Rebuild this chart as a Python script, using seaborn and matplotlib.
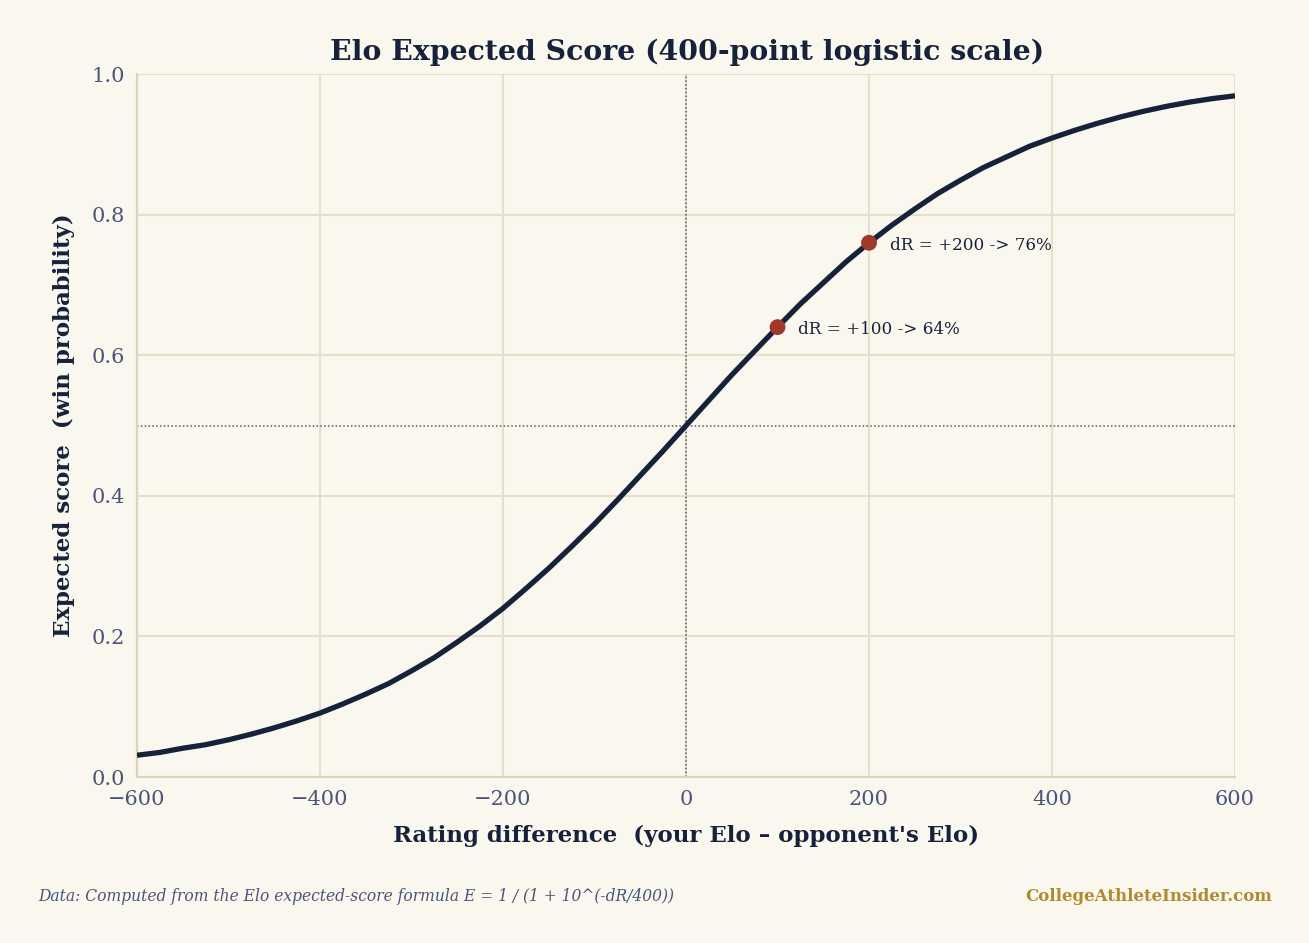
import matplotlib
matplotlib.use("Agg")
import matplotlib.pyplot as plt
import seaborn as sns
import pandas as pd

# Values (rating difference -> expected score)
rating_diff = [-600, -575, -550, -525, -500, -475, -450, -425, -400, -375, -350, -325,
               -300, -275, -250, -225, -200, -175, -150, -125, -100, -75, -50, -25,
               0, 25, 50, 75, 100, 125, 150, 175, 200, 225, 250, 275, 300, 325, 350,
               375, 400, 425, 450, 475, 500, 525, 550, 575, 600]
expected_score = [0.031, 0.035, 0.041, 0.046, 0.053, 0.061, 0.070, 0.080, 0.091, 0.104,
                  0.118, 0.133, 0.151, 0.170, 0.192, 0.215, 0.240, 0.268, 0.297, 0.328,
                  0.360, 0.394, 0.429, 0.464, 0.500, 0.536, 0.572, 0.606, 0.640, 0.673,
                  0.703, 0.733, 0.760, 0.785, 0.808, 0.830, 0.849, 0.867, 0.882, 0.897,
                  0.909, 0.920, 0.930, 0.939, 0.947, 0.954, 0.960, 0.965, 0.969]

marker_x = [100, 200]
marker_y = [0.64, 0.76]
marker_labels = ["dR = +100 -> 64%", "dR = +200 -> 76%"]

x_ticks = [-600, -400, -200, 0, 200, 400, 600]
y_ticks = [0.0, 0.2, 0.4, 0.6, 0.8, 1.0]

BG = "#FAF7EF"
NAVY = "#16213A"
RED = "#A0392B"
GRID = "#E6E0C8"
SPINE = "#DDD3B8"
TICKC = "#4B5479"
GOLD = "#B08A2E"

sns.set_theme(style="whitegrid")
plt.rcParams["font.family"] = ["DejaVu Serif"]

fig = plt.figure(figsize=(13.09, 9.43), dpi=100, facecolor=BG)
ax = fig.add_axes([0.1047, 0.176, 0.8388, 0.7455])
ax.set_facecolor(BG)

df = pd.DataFrame({"dR": rating_diff, "E": expected_score})
ax.axvline(0, color="#555a66", lw=1.1, ls=(0, (1, 1.5)), zorder=2)
ax.axhline(0.5, color="#555a66", lw=1.1, ls=(0, (1, 1.5)), zorder=2)
sns.lineplot(data=df, x="dR", y="E", ax=ax, color=NAVY, lw=3.8, zorder=3,
             solid_joinstyle="round", solid_capstyle="butt")
mdf = pd.DataFrame({"dR": marker_x, "E": marker_y})
sns.scatterplot(data=mdf, x="dR", y="E", ax=ax, color=RED, s=130, edgecolor="none", zorder=4)
for x, y, lab in zip(marker_x, marker_y, marker_labels):
    ax.annotate(lab, (x, y), xytext=(15, -2), textcoords="offset points",
                va="center", ha="left", fontsize=12.1, color=NAVY)

ax.set_xlim(-600, 600)
ax.set_ylim(0, 1.0)
ax.set_xticks(x_ticks)
ax.set_yticks(y_ticks)
ax.set_xticklabels(["\u2212600", "\u2212400", "\u2212200", "0", "200", "400", "600"])
ax.set_yticklabels([f"{v:.1f}" for v in y_ticks])
ax.tick_params(axis="both", colors=TICKC, labelsize=15, length=5, width=1.5, direction="out",
               labelcolor=TICKC)
ax.tick_params(axis="x", pad=4)
ax.grid(True, color=GRID, lw=1.5)
for s in ["top", "right"]:
    ax.spines[s].set_visible(False)
for s in ["left", "bottom"]:
    ax.spines[s].set_color(SPINE)
    ax.spines[s].set_linewidth(1.6)

ax.set_xlabel("Rating difference  (your Elo \u2013 opponent's Elo)", fontsize=16.5,
              fontweight="bold", color=NAVY, labelpad=12)
ax.set_ylabel("Expected score  (win probability)", fontsize=16.5, fontweight="bold",
              color=NAVY, labelpad=12)
fig.text(0.525, 0.945, "Elo Expected Score (400-point logistic scale)", ha="center",
         va="center", fontsize=20.4, fontweight="bold", color=NAVY)
fig.text(0.029, 0.049, "Data: Computed from the Elo expected-score formula E = 1 / (1 + 10^(-dR/400))",
         ha="left", va="center", fontsize=11.2, style="italic", color=TICKC)
fig.text(0.972, 0.049, "CollegeAthleteInsider.com", ha="right", va="center",
         fontsize=12, fontweight="bold", color=GOLD)

fig.savefig("out.png", dpi=100, facecolor=BG)
